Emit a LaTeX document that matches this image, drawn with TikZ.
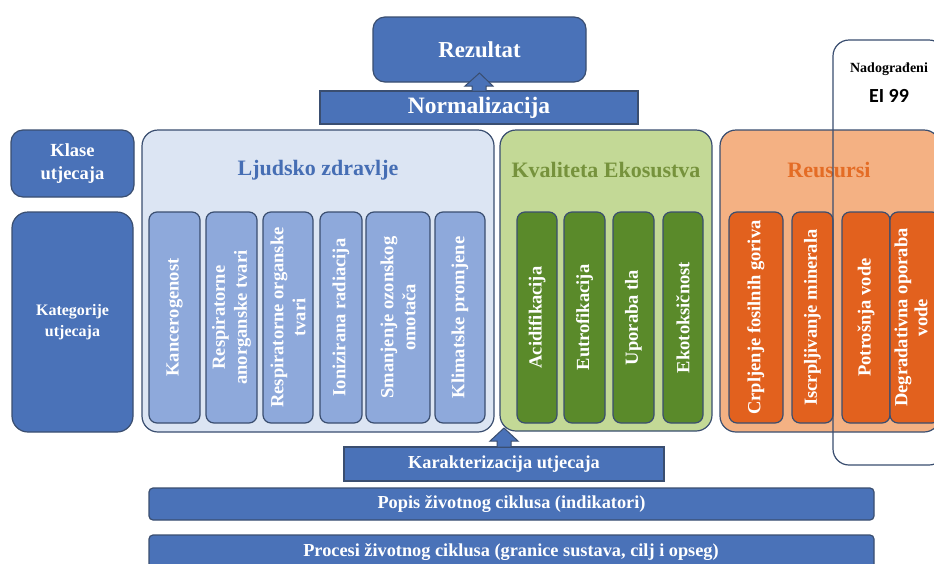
\documentclass[tikz,border=0pt]{standalone}
\usepackage{fontspec}
\setmainfont{Liberation Serif}
\newfontfamily\calib{Carlito}
\usetikzlibrary{calc}
\definecolor{dblue}{RGB}{74,114,184}
\definecolor{lblue}{RGB}{220,229,243}
\definecolor{sblue}{RGB}{142,169,219}
\definecolor{lgreen}{RGB}{195,217,150}
\definecolor{sgreen}{RGB}{90,138,42}
\definecolor{tgreen}{RGB}{118,146,60}
\definecolor{lorange}{RGB}{244,177,131}
\definecolor{sorange}{RGB}{226,97,30}
\definecolor{torange}{RGB}{228,108,37}
\definecolor{tblue}{RGB}{70,110,180}
\definecolor{slate}{RGB}{58,78,112}
\tikzset{
  box/.style={anchor=north west, inner sep=0pt, outer sep=0pt, line width=1.2pt, draw=slate, align=center},
  darkbox/.style={box, fill=dblue, text=white, rounded corners=12pt},
  barbox/.style={box, fill=dblue, text=white, font=\bfseries\fontsize{18.3}{21}\selectfont},
  container/.style={box, rounded corners=16pt},
  catsub/.style={box, rounded corners=8pt},
  vlabel/.style={rotate=90, text=white, align=center, inner sep=0pt, font=\bfseries\fontsize{18.5}{22}\selectfont},
  title/.style={inner sep=0pt, font=\bfseries\fontsize{22}{26}\selectfont},
  blockarrow/.style={fill=dblue, draw=slate, line width=1pt, line join=miter}
}
\newcommand\catbox[5]{%
  \node[catsub, fill=#4, minimum width={(#3-#2)*1pt}, minimum height=211pt] (#1) at (#2,212) {};
  \node[vlabel] (#1-t) at (#1.center) {#5};
}
\begin{document}
\begin{tikzpicture}[x=1pt,y=-1pt]
\clip (0,0) rectangle (934,563);
\fill[white] (0,0) rectangle (934,563);

% top
\node[darkbox, minimum width=213pt, minimum height=65pt, font=\bfseries\fontsize{22.8}{26}\selectfont] (rez) at (373,17) {Rezultat};
\node[box, fill=dblue, text=white, minimum width=318pt, minimum height=33pt, font=\bfseries\fontsize{23.5}{26}\selectfont] (norm) at (320,91) {Normalizacija};
\filldraw[blockarrow] ($(norm.north)+(-7,0)$) -- ($(norm.north)+(-7,-5)$) -- ($(norm.north)+(-14,-5)$)
  -- ($(rez.south)+(0,-9)$) -- ($(norm.north)+(14,-5)$) -- ($(norm.north)+(7,-5)$) -- ($(norm.north)+(7,0)$) -- cycle;

% left labels
\node[darkbox, minimum width=123pt, minimum height=67pt, font=\bfseries\fontsize{18.5}{23}\selectfont] (klase) at (11,130) {Klase\\utjecaja};
\node[darkbox, rounded corners=16pt, minimum width=121pt, minimum height=220pt, font=\bfseries\fontsize{16}{21}\selectfont] (kat) at (12,212) {Kategorije\\utjecaja};

% containers
\node[container, fill=lblue, minimum width=352pt, minimum height=302pt] (ljud) at (142,130) {};
\node[title, text=tblue] (ljudT) at (318,170) {Ljudsko zdravlje};
\node[container, fill=lgreen, minimum width=212pt, minimum height=301pt] (kval) at (500,130) {};
\node[title, text=tgreen] (kvalT) at (606,170) {Kvaliteta Ekosustva};
\node[container, fill=lorange, minimum width=220pt, minimum height=302pt] (res) at (720,130) {};
\node[title, text=torange] (resT) at (829,170) {Reusursi};

% categories
\catbox{kanc}{149}{200}{sblue}{Kancerogenost}
\catbox{resa}{206}{257}{sblue}{Respiratorne\\anorganske tvari}
\catbox{reso}{263}{313}{sblue}{Respiratorne organske\\tvari}
\catbox{ion}{320}{362}{sblue}{Ionizirana radiacija}
\catbox{sman}{366}{430}{sblue}{Smanjenje ozonskog\\omotača}
\catbox{klim}{435}{485}{sblue}{Klimatske promjene}
\catbox{acid}{517}{557}{sgreen}{Acidifikacija}
\catbox{eut}{564}{605}{sgreen}{Eutrofikacija}
\catbox{upo}{613}{654}{sgreen}{Uporaba tla}
\catbox{eko}{663}{703}{sgreen}{Ekotoksičnost}
\catbox{crp}{729}{783}{sorange}{Crpljenje fosilnih goriva}
\catbox{isc}{792}{833}{sorange}{Iscrpljivanje minerala}
\catbox{pot}{842}{890}{sorange}{Potrošnja vode}
\node[catsub, fill=sorange, minimum width=50pt, minimum height=211pt] (deg) at (890,212) {};
\node[vlabel, font=\bfseries\fontsize{18.5}{20}\selectfont] (deg-t) at ($(deg.center)+(-4,0)$) {Degradativna oporaba\\vode};

% EI 99 frame
\node[box, rounded corners=16pt, minimum width=112pt, minimum height=425pt] (ei) at (833,40) {};
\node[inner sep=0pt, font=\bfseries\fontsize{14}{16}\selectfont] (eiT1) at (889,69) {Nadograđeni};
\node[inner sep=0pt, font=\calib\bfseries\fontsize{20}{24}\selectfont] (eiT2) at (889,96) {EI 99};

% bottom
\node[barbox, minimum width=320pt, minimum height=34pt] (kar) at (344,447) {Karakterizacija utjecaja};
\filldraw[blockarrow] ($(kar.north)+(-7,0)$) -- ($(kar.north)+(-7,-6)$) -- ($(kar.north)+(-14,-6)$)
  -- ($(kval.south west)+(4,-3)$) -- ($(kar.north)+(14,-6)$) -- ($(kar.north)+(7,-6)$) -- ($(kar.north)+(7,0)$) -- cycle;
\node[barbox, rounded corners=4pt, minimum width=725pt, minimum height=32pt] (popis) at (149,488) {Popis životnog ciklusa (indikatori)};
\node[barbox, rounded corners=4pt, minimum width=725pt, minimum height=40pt] (proc) at (149,535) {};
\node[inner sep=0pt, text=white, font=\bfseries\fontsize{18.3}{21}\selectfont] (procT) at (511,552) {Procesi životnog ciklusa (granice sustava, cilj i opseg)};
\end{tikzpicture}
\end{document}
